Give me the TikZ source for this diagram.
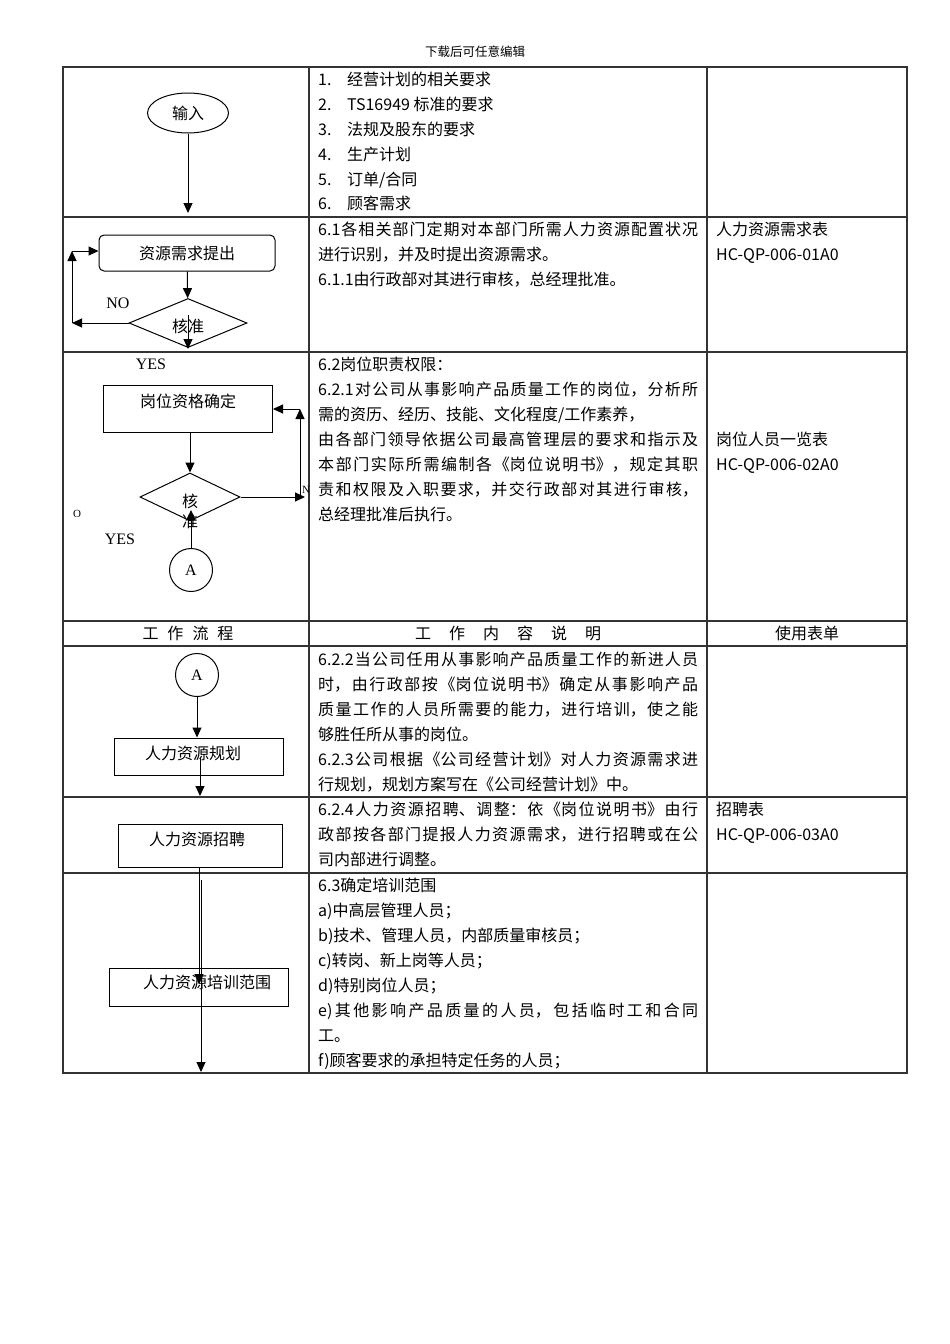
\documentclass[tikz,border=0pt]{standalone}
\usepackage{fontspec}
\setmainfont{Noto Sans CJK SC}
\newfontfamily\lserif{Liberation Serif}
\usetikzlibrary{shapes.geometric,arrows.meta}
\XeTeXlinebreaklocale "zh"
\XeTeXlinebreakskip=0pt plus 4pt
\newcommand\JL[3]{\node[jl] (#1) at (318,#2) {\parfillskip=0pt\relax #3\par};}
\newcommand\LL[4]{\node[ll] (#1) at (#2,#3) {#4};}
\begin{document}
\begin{tikzpicture}[x=1pt,y=-1pt,
 tbl/.style={draw=black!80, line width=1.1pt},
 arr/.style={-{Triangle[length=10pt,width=9pt]}, line width=1pt},
 box/.style={draw, line width=1pt, rectangle, inner sep=0pt},
 txt/.style={font=\fontsize{16}{20}\selectfont, inner sep=0pt, text height=14pt, text depth=2pt},
 jl/.style={txt, anchor=west, text width=380pt, align=justify},
 ll/.style={txt, anchor=west},
 lat/.style={font=\lserif\fontsize{16}{20}\selectfont, inner sep=0pt},
 sml/.style={font=\lserif\fontsize{11}{13}\selectfont, inner sep=0pt},
]
\useasboundingbox (0,0) rectangle (950,1344);
% header
\node[font=\fontsize{12.5}{14}\selectfont, inner sep=0pt] (hdr) at (475,52) {下载后可任意编辑};
% table
\draw[tbl] (63,67) rectangle (907,1073);
\draw[tbl] (309,67) -- (309,1073);
\draw[tbl] (707,67) -- (707,1073);
\foreach \yy in {217,352,621,646,797,873} \draw[tbl] (63,\yy) -- (907,\yy);

% ---------- row 1
\node[draw, ellipse, line width=1pt, minimum width=81pt, minimum height=40pt, inner sep=0pt, txt] (inp) at (188,113) {输入};
\coordinate (e1) at (188,213);
\draw[arr] (inp) -- (e1);
\LL{n1}{318}{79}{1.}\LL{l1}{347}{79}{经营计划的相关要求}
\LL{n2}{318}{104}{2.}\LL{l2}{347}{104}{TS16949 标准的要求}
\LL{n3}{318}{129}{3.}\LL{l3}{347}{129}{法规及股东的要求}
\LL{n4}{318}{154}{4.}\LL{l4}{347}{154}{生产计划}
\LL{n5}{318}{179}{5.}\LL{l5}{347}{179}{订单/合同}
\LL{n6}{318}{203}{6.}\LL{l6}{347}{203}{顾客需求}

% ---------- row 2
\node[box, rounded corners=5pt, minimum width=176pt, minimum height=36pt, txt] (req) at (187,253) {资源需求提出};
\node[draw, diamond, line width=1pt, minimum width=118pt, minimum height=49pt, inner sep=0pt] (d1) at (188,323) {};
\node[txt] (d1t) at (188,326) {核准};
\draw[arr] (req) -- (d1);
\coordinate (c1) at (188,315);
\coordinate (c2) at (188,349);
\draw[arr] (c1) -- (c2);
\coordinate (nl1) at (72,323);
\coordinate (nl2) at (72,251);
\draw[arr] (d1.west) -- (nl1);
\draw[arr] (nl1) -- (nl2);
\draw[arr] (nl2) -- (req.west |- nl2);
\node[lat] (no) at (118,303) {NO};
\JL{r2a}{229}{6.1各相关部门定期对本部门所需人力资源配置状况}
\LL{r2b}{318}{254}{进行识别，并及时提出资源需求。}
\LL{r2c}{318}{279}{6.1.1由行政部对其进行审核，总经理批准。}
\LL{f1a}{716}{229}{人力资源需求表}
\LL{f1b}{716}{254}{HC-QP-006-01A0}

% ---------- row 3
\node[lat] (yes1) at (151,364) {YES};
\node[box, minimum width=169pt, minimum height=47pt] (q) at (188,408.5) {};
\node[txt] (qt) at (188,401) {岗位资格确定};
\node[draw, diamond, line width=1pt, minimum width=100pt, minimum height=48pt, inner sep=0pt] (d2) at (190,497) {};
\node[txt] (d2a) at (190,501) {核};
\node[txt] (d2b) at (190,521) {准};
\draw[arr] (q.south -| d2.north) -- (d2.north);
\coordinate (m1) at (305,497);
\coordinate (m2) at (300,497);
\coordinate (m3) at (300,409);
\draw[arr] (d2.east) -- (m1);
\draw[arr] (m2) -- (m3);
\draw[arr] (m3) -- (q.east |- m3);
\node[sml] (nn) at (306,490) {N};
\node[sml] (oo) at (77,514) {O};
\node[lat] (yes2) at (120,539) {YES};
\node[draw, circle, line width=1pt, minimum size=43pt, inner sep=0pt, lat] (a1) at (191,570) {A};
\coordinate (c3) at (191,510);
\draw[arr] (a1) -- (c3);
\LL{r3a}{318}{364}{6.2岗位职责权限：}
\JL{r3b}{389}{6.2.1对公司从事影响产品质量工作的岗位，分析所}
\LL{r3c}{318}{414}{需的资历、经历、技能、文化程度/工作素养，}
\JL{r3d}{439}{由各部门领导依据公司最高管理层的要求和指示及}
\JL{r3e}{464}{本部门实际所需编制各《岗位说明书》，规定其职}
\JL{r3f}{489}{责和权限及入职要求，并交行政部对其进行审核，}
\LL{r3g}{318}{514}{总经理批准后执行。}
\LL{f2a}{716}{439}{岗位人员一览表}
\LL{f2b}{716}{464}{HC-QP-006-02A0}

% ---------- header row
\node[txt] (h1) at (188,633) {工\hspace{9pt}作\hspace{9pt}流\hspace{9pt}程};
\node[txt] (h2) at (508,633) {工\hspace{18pt}作\hspace{18pt}内\hspace{18pt}容\hspace{18pt}说\hspace{18pt}明};
\node[txt] (h3) at (807,633) {使用表单};

% ---------- row 4
\node[draw, circle, line width=1pt, minimum size=43pt, inner sep=0pt, lat] (a2) at (197,675) {A};
\node[box, minimum width=169pt, minimum height=37pt] (plan) at (198.5,756.5) {};
\node[txt] (plant) at (193,753) {人力资源规划};
\draw[arr] (a2) -- (a2.south |- plan.north);
\coordinate (c4) at (200,757);
\coordinate (c5) at (200,796);
\draw[arr] (c4) -- (c5);
\JL{r4a}{659}{6.2.2当公司任用从事影响产品质量工作的新进人员}
\JL{r4b}{684}{时，由行政部按《岗位说明书》确定从事影响产品}
\JL{r4c}{709}{质量工作的人员所需要的能力，进行培训，使之能}
\LL{r4d}{318}{734}{够胜任所从事的岗位。}
\JL{r4e}{759}{6.2.3公司根据《公司经营计划》对人力资源需求进}
\LL{r4f}{318}{784}{行规划，规划方案写在《公司经营计划》中。}

% ---------- row 5
\node[box, minimum width=164pt, minimum height=43pt] (rec) at (200,845.5) {};
\node[txt] (rect) at (197,839) {人力资源招聘};
\JL{r5a}{809}{6.2.4人力资源招聘、调整：依《岗位说明书》由行}
\JL{r5b}{834}{政部按各部门提报人力资源需求，进行招聘或在公}
\LL{r5c}{318}{859}{司内部进行调整。}
\LL{f3a}{716}{809}{招聘表}
\LL{f3b}{716}{834}{HC-QP-006-03A0}

% ---------- row 6
\node[box, minimum width=179pt, minimum height=38pt] (trn) at (198.5,987) {};
\node[txt] (trnt) at (207,982) {人力资源培训范围};
\coordinate (c6) at (199,984);
\coordinate (c7) at (201,880);
\coordinate (c8) at (201,1072);
\draw[arr] (rec.south -| c6) -- (c6);
\draw[arr] (c7) -- (c8);
\LL{r6a}{318}{885}{6.3确定培训范围}
\LL{r6b}{318}{910}{a)中高层管理人员；}
\LL{r6c}{318}{935}{b)技术、管理人员，内部质量审核员；}
\LL{r6d}{318}{960}{c)转岗、新上岗等人员；}
\LL{r6e}{318}{985}{d)特别岗位人员；}
\JL{r6f}{1010}{e)其他影响产品质量的人员，包括临时工和合同}
\LL{r6g}{318}{1035}{工。}
\LL{r6h}{318}{1060}{f)顾客要求的承担特定任务的人员；}
\end{tikzpicture}
\end{document}
